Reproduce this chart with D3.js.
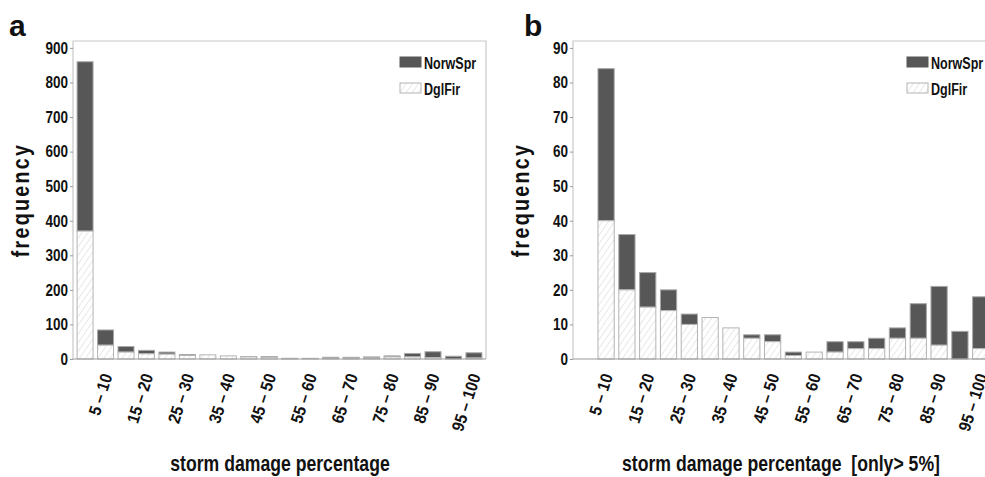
<!DOCTYPE html>
<html>
<head>
<meta charset="utf-8">
<script src="https://cdn.jsdelivr.net/npm/d3@7"></script>
<style>
  body { margin: 0; background: #fff; }
  text { font-family: "Liberation Sans", Arial, sans-serif; font-weight: bold; fill: #111; }
</style>
</head>
<body>
<div id="chart"></div>
<script>
//width and height
var chart_width = 985;
var chart_height = 477;

// narrow look (Arial Narrow is not around)
var squeeze = "scale(0.82,1)";

// bins (0-5 ... 95-100)
var bins = ["0 \u2013 5", "5 \u2013 10", "10 \u2013 15", "15 \u2013 20", "20 \u2013 25", "25 \u2013 30",
    "30 \u2013 35", "35 \u2013 40", "40 \u2013 45", "45 \u2013 50", "50 \u2013 55", "55 \u2013 60",
    "60 \u2013 65", "65 \u2013 70", "70 \u2013 75", "75 \u2013 80", "80 \u2013 85", "85 \u2013 90",
    "90 \u2013 95", "95 \u2013 100"];
var shown_labels = ["5 \u2013 10", "15 \u2013 20", "25 \u2013 30", "35 \u2013 40", "45 \u2013 50",
    "55 \u2013 60", "65 \u2013 70", "75 \u2013 80", "85 \u2013 90", "95 \u2013 100"];

// panel a: all damage
var dglfir_a  = [370, 40, 20, 15, 14, 10, 12, 9, 6, 5, 1, 2, 2, 3, 3, 6, 6, 4, 0, 3];
var norwspr_a = [490, 44, 16, 10, 6, 3, 0, 0, 1, 2, 1, 0, 3, 2, 3, 3, 10, 17, 8, 15];
var ticks_a = [0, 100, 200, 300, 400, 500, 600, 700, 800, 900];

// panel b: only > 5% (no 0-5 bin)
var dglfir_b  = [null, 40, 20, 15, 14, 10, 12, 9, 6, 5, 1, 2, 2, 3, 3, 6, 6, 4, 0, 3];
var norwspr_b = [null, 44, 16, 10, 6, 3, 0, 0, 1, 2, 1, 0, 3, 2, 3, 3, 10, 17, 8, 15];
var ticks_b = [0, 10, 20, 30, 40, 50, 60, 70, 80, 90];

var species = ["NorwSpr", "DglFir"];

var svg = d3.select("#chart")
    .append("svg")
    .attr("width", chart_width)
    .attr("height", chart_height);

// hatch for DglFir
var defs = svg.append("defs");
var pat = defs.append("pattern")
    .attr("id", "hatch")
    .attr("patternUnits", "userSpaceOnUse")
    .attr("width", 5)
    .attr("height", 5)
    .attr("patternTransform", "rotate(35)");
pat.append("rect").attr("width", 5).attr("height", 5).attr("fill", "#fff");
pat.append("line")
    .attr("x1", 0).attr("y1", 0).attr("x2", 0).attr("y2", 5)
    .attr("stroke", "#d2d2d2").attr("stroke-width", 1);

var draw_panel = (opt) => {
    var left = opt.left, top = 41, bottom = 359, width = opt.width;

    var x = d3.scaleBand()
        .domain(bins)
        .range([left, left + width])
        .paddingInner(0.22)
        .paddingOuter(0.2);

    var y = d3.scaleLinear()
        .domain([0, opt.ymax])
        .range([bottom, top]);

    var g = svg.append("g");

    // frame
    g.append("path")
        .attr("d", "M" + left + "," + bottom + "V" + top + "H" + (left + width) + "V" + bottom)
        .attr("fill", "none")
        .attr("stroke", "#c8c8c8")
        .attr("stroke-width", 1.2);

    // y axis
    var yaxis = g.append("g")
        .attr("transform", "translate(" + left + ",0)")
        .call(d3.axisLeft(y).tickValues(opt.ticks).tickSize(3).tickPadding(3));
    yaxis.select(".domain").remove();
    yaxis.selectAll("line").attr("stroke", "#999");
    yaxis.selectAll("text")
        .attr("font-size", 16.5)
        .attr("font-family", null)
        .attr("fill", "#111")
        .attr("transform", squeeze);

    // bars
    var rows = bins.map((b, i) => {
        return { bin: b, dgl: opt.dgl[i], norw: opt.norw[i] };
    }).filter((d) => { return d.dgl !== null; });

    g.selectAll("rect.norw")
        .data(rows)
        .enter()
        .append("rect")
        .attr("class", "norw")
        .attr("x", (d) => { return x(d.bin); })
        .attr("width", x.bandwidth())
        .attr("y", (d) => { return y(d.dgl + d.norw); })
        .attr("height", (d) => { return y(d.dgl) - y(d.dgl + d.norw); })
        .attr("fill", "#575757")
        .attr("stroke", "#a8a8a8")
        .attr("stroke-width", 1);

    g.selectAll("rect.dgl")
        .data(rows)
        .enter()
        .append("rect")
        .attr("class", "dgl")
        .attr("x", (d) => { return x(d.bin); })
        .attr("width", x.bandwidth())
        .attr("y", (d) => { return y(d.dgl); })
        .attr("height", (d) => { return y(0) - y(d.dgl); })
        .attr("fill", "url(#hatch)")
        .attr("stroke", "#b4b4b4")
        .attr("stroke-width", 1);

    // baseline
    g.append("line")
        .attr("x1", left).attr("x2", left + width)
        .attr("y1", bottom).attr("y2", bottom)
        .attr("stroke", "#999")
        .attr("stroke-width", 1.2);

    // x labels, every other bin
    g.selectAll("text.xl")
        .data(shown_labels)
        .enter()
        .append("text")
        .attr("class", "xl")
        .attr("text-anchor", "end")
        .attr("font-size", 17)
        .attr("transform", (d) => {
            return "translate(" + (x(d) + x.bandwidth() / 2 + 7) + ",376) rotate(-72) scale(0.9,1)";
        })
        .text((d) => { return d; });

    // axis titles
    g.append("text")
        .attr("text-anchor", "middle")
        .attr("font-size", 24)
        .attr("letter-spacing", 2.8)
        .attr("transform", "translate(" + (left - 44) + ",200) rotate(-90) " + squeeze)
        .text("frequency");

    g.append("text")
        .attr("text-anchor", "middle")
        .attr("font-size", 21.5)
        .attr("xml:space", "preserve")
        .attr("transform", "translate(" + opt.title_x + ",471) " + squeeze)
        .text(opt.title);

    // panel letter
    g.append("text")
        .attr("x", opt.letter_x)
        .attr("y", 36)
        .attr("font-size", 30)
        .text(opt.letter);

    // legend
    var lg = g.append("g")
        .attr("transform", "translate(" + (left + width - 86) + ",57)");
    var items = lg.selectAll("g")
        .data(species)
        .enter()
        .append("g")
        .attr("transform", (d, i) => { return "translate(0," + (i * 26) + ")"; });
    items.append("rect")
        .attr("width", 21)
        .attr("height", 10)
        .attr("fill", (d) => { return d === "NorwSpr" ? "#575757" : "url(#hatch)"; })
        .attr("stroke", (d) => { return d === "NorwSpr" ? "#575757" : "#b4b4b4"; });
    items.append("text")
        .attr("font-size", 16.5)
        .attr("transform", "translate(24,12) scale(0.76,1)")
        .text((d) => { return d; });
};

draw_panel({
    left: 73, width: 413, ymax: 920, ticks: ticks_a, dgl: dglfir_a, norw: norwspr_a,
    letter: "a", letter_x: 9, title: "storm damage percentage", title_x: 280
});
draw_panel({
    left: 573, width: 420, ymax: 92, ticks: ticks_b, dgl: dglfir_b, norw: norwspr_b,
    letter: "b", letter_x: 524, title: "storm damage percentage  [only> 5%]", title_x: 781
});
</script>
</body>
</html>
